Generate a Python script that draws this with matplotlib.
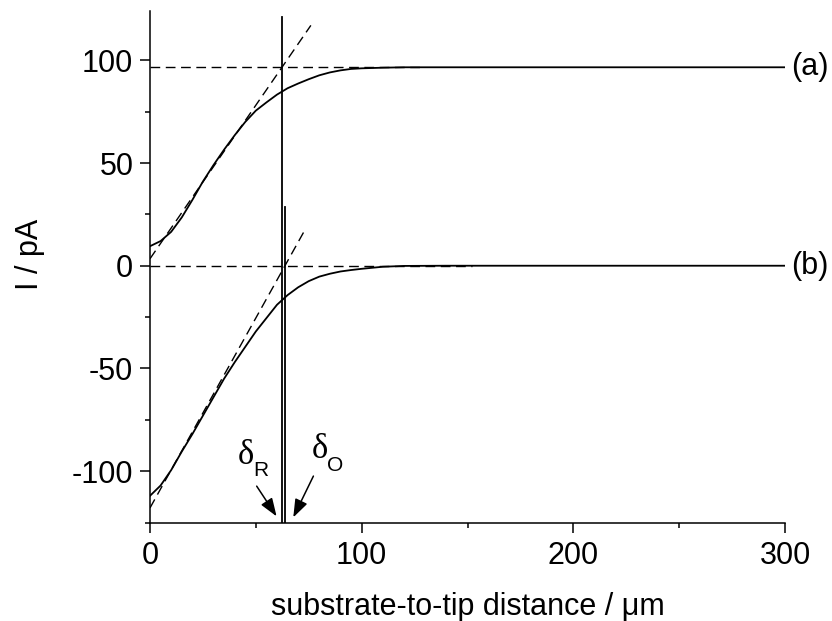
import numpy as np
import matplotlib
matplotlib.use('Agg')
import matplotlib.pyplot as plt
from matplotlib.ticker import MultipleLocator

plt.rcParams['font.family'] = ['Liberation Sans', 'DejaVu Sans']
plt.rcParams['axes.unicode_minus'] = False

# approach curves
dist = [0, 5, 10, 15, 20, 25, 30, 35, 40, 45, 50, 55, 60, 65, 70, 75,
        80, 85, 90, 95, 100, 110, 120, 140, 200, 300]
curr_a = [9.5, 12, 16.5, 23.5, 32, 41, 49, 56.5, 63.5, 70, 75.5, 79.5, 83.3,
          86.4, 88.7, 90.8, 92.7, 94.1, 95.1, 95.8, 96.1, 96.4, 96.6, 96.6, 96.6, 96.6]
curr_b = [-112, -107, -99.5, -90.5, -82, -73, -64, -55, -47, -39.5, -32, -25.5,
          -19, -14.3, -10.5, -7.5, -5.3, -3.9, -2.8, -2.1, -1.5, -0.5, -0.1, 0, 0, 0]

# tangents and plateaus (dashed)
tan_a_x = [0, 76]
tan_a_y = [3.4, 117]
tan_b_x = [0, 73.5]
tan_b_y = [-117.9, 18]
plat_a_x = [0, 130]
plat_b_x = [0, 152]
plat_a = 96.6
plat_b = 0

# delta positions
delta_R = 62.3
delta_O = 63.8
delta_R_top = 121
delta_O_top = 28.6

fig = plt.figure(figsize=(8.32, 6.21), dpi=100)
ax = fig.add_axes([150/832, 98.5/621, 635/832, 511.5/621])

ax.plot(plat_a_x, [plat_a, plat_a], color='black', lw=1.0, dashes=(7, 4))
ax.plot(plat_b_x, [plat_b, plat_b], color='black', lw=1.0, dashes=(7, 4))
ax.plot(tan_a_x, tan_a_y, color='black', lw=1.0, dashes=(7, 4))
ax.plot(tan_b_x, tan_b_y, color='black', lw=1.0, dashes=(7, 4))

ax.plot(dist, curr_a, color='black', lw=1.3)
ax.plot(dist, curr_b, color='black', lw=1.3)

ax.plot([delta_R, delta_R], [-125, delta_R_top], color='black', lw=1.3)
ax.plot([delta_O, delta_O], [-125, delta_O_top], color='black', lw=1.3)

ax.text(303, plat_a, '(a)', fontsize=22, va='center', ha='left', clip_on=False)
ax.text(303, plat_b, '(b)', fontsize=22, va='center', ha='left', clip_on=False)

arrow = dict(arrowstyle='-|>,head_length=0.55,head_width=0.2', color='black',
             lw=1.1, mutation_scale=20, shrinkA=0, shrinkB=0)
ax.annotate('', xy=(59.8, -122), xytext=(50.4, -107.3), arrowprops=arrow)
ax.annotate('', xy=(67.7, -122.5), xytext=(77.2, -102.4), arrowprops=arrow)

ax.text(45.4, -96.7, 'δ', family='Liberation Serif', fontsize=25, ha='center', va='baseline')
ax.text(48.7, -102.3, 'R', fontsize=15, ha='left', va='baseline')
ax.text(80.3, -93.4, 'δ', family='Liberation Serif', fontsize=25, ha='center', va='baseline')
ax.text(83.5, -99.7, 'O', fontsize=15, ha='left', va='baseline')

ax.set_xlim(0, 300)
ax.set_ylim(-125, 124)
ax.spines['top'].set_visible(False)
ax.spines['right'].set_visible(False)
for s in ('left', 'bottom'):
    ax.spines[s].set_linewidth(1.1)

ax.xaxis.set_major_locator(MultipleLocator(100))
ax.xaxis.set_minor_locator(MultipleLocator(50))
ax.yaxis.set_major_locator(MultipleLocator(50))
ax.yaxis.set_minor_locator(MultipleLocator(25))
ax.tick_params(which='major', direction='out', length=7, width=1.1, labelsize=22)
ax.tick_params(which='minor', direction='out', length=3.5, width=1.1)
ax.tick_params(axis='x', which='major', pad=6)
ax.tick_params(axis='y', which='major', pad=5)

ax.set_xlabel('substrate-to-tip distance / μm', fontsize=22)
ax.set_ylabel('I / pA', fontsize=22)
ax.xaxis.set_label_coords(0.5, -0.135)
ax.yaxis.set_label_coords(-0.165, 0.525)

fig.savefig('out.png', dpi=100)
